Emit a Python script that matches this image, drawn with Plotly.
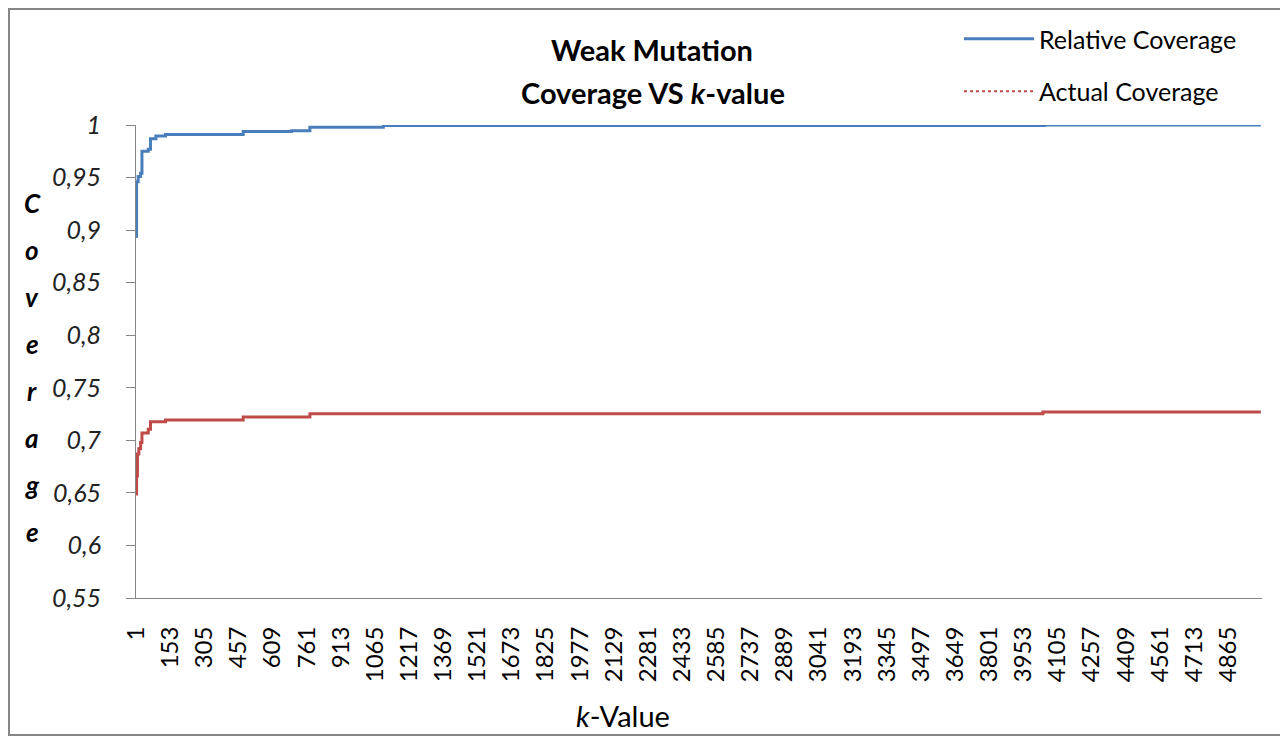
import plotly.graph_objects as go

# step points (k, coverage)
k_relative = [1, 3, 10, 21, 27, 55, 65, 89, 132, 478, 693, 775, 1102, 4049, 5011]
relative_coverage = [0.894, 0.946, 0.951, 0.954, 0.975, 0.977, 0.987, 0.9895, 0.991,
                     0.9937, 0.9946, 0.9978, 0.9995, 1.0, 1.0]

k_actual = [1, 3, 7, 13, 21, 27, 55, 65, 132, 478, 775, 4040, 5011]
actual_coverage = [0.649, 0.666, 0.687, 0.692, 0.698, 0.707, 0.7105, 0.7177, 0.7193,
                   0.7222, 0.7254, 0.727, 0.727]

x_ticks = [1, 153, 305, 457, 609, 761, 913, 1065, 1217, 1369, 1521, 1673, 1825, 1977,
           2129, 2281, 2433, 2585, 2737, 2889, 3041, 3193, 3345, 3497, 3649, 3801,
           3953, 4105, 4257, 4409, 4561, 4713, 4865]
y_ticks = [0.55, 0.6, 0.65, 0.7, 0.75, 0.8, 0.85, 0.9, 0.95, 1.0]
y_tick_text = ["0,55", "0,6", "0,65", "0,7", "0,75", "0,8", "0,85", "0,9", "0,95", "1"]

# the page body has an 8px margin, so the figure sits at (8, 8)
OFF = 8
W, H = 1288 - OFF, 738 - OFF
# plot area in page pixels
L, R, T, B = 136, 1262, 125, 598
FONT = "Lato"
BLUE = "#4A7EBB"
RED = "#BE4B48"


def px(x):
    return (x - L) / (R - L)


def py(y):
    return (B - y) / (B - T)


fig = go.Figure()
fig.add_trace(go.Scatter(x=k_relative, y=relative_coverage, mode="lines", line_shape="hv",
                         name="Relative Coverage", legendgroup="rel",
                         line=dict(color=BLUE, width=3)))
fig.add_trace(go.Scatter(x=k_actual, y=actual_coverage, mode="lines", line_shape="hv",
                         name="Actual Coverage", showlegend=False, legendgroup="act",
                         line=dict(color=RED, width=3)))
# legend swatch for the dotted series
fig.add_trace(go.Scatter(x=[None], y=[None], mode="lines", name="Actual Coverage",
                         legendgroup="act", line=dict(color=RED, width=2, dash="dot")))

annotations = [
    dict(text="<b>Weak Mutation</b>", x=px(652), y=py(50), size=29),
    dict(text="<b>Coverage VS <i>k</i>-value</b>", x=px(653), y=py(93), size=29),
    dict(text="<i>k</i>-Value", x=px(623), y=py(715), size=29),
]
for a in annotations:
    size = a.pop("size")
    a.update(xref="paper", yref="paper", showarrow=False, xanchor="center", yanchor="middle",
             font=dict(family=FONT, size=size, color="black"))

letters = "Coverage"
for i, ch in enumerate(letters):
    annotations.append(dict(text=f"<b><i>{ch}</i></b>", x=px(32), y=py(203 + 47 * i),
                            xref="paper", yref="paper", showarrow=False,
                            xanchor="center", yanchor="middle",
                            font=dict(family=FONT, size=26, color="black")))

fig.update_layout(
    width=W, height=H,
    margin=dict(l=L - OFF, r=W - (R - OFF), t=T - OFF, b=H - (B - OFF), autoexpand=False),
    paper_bgcolor="white", plot_bgcolor="white",
    annotations=annotations,
    legend=dict(x=px(959), y=py(16), xanchor="left", yanchor="top",
                font=dict(family=FONT, size=25, color="black"),
                tracegroupgap=17, itemwidth=70, bgcolor="rgba(0,0,0,0)"),
    shapes=[dict(type="rect", xref="paper", yref="paper",
                 x0=px(OFF + 1), x1=px(1285), y0=py(735), y1=py(OFF + 1),
                 line=dict(color="#868686", width=2))],
)
fig.update_xaxes(range=[0.5, 5016], tickmode="array", tickvals=x_ticks,
                 ticktext=[str(t) for t in x_ticks], tickangle=-90,
                 tickfont=dict(family=FONT, size=24, color="black"),
                 showgrid=False, zeroline=False, showline=True, linecolor="#868686",
                 linewidth=1, ticks="", ticklabelstandoff=18)
fig.update_yaxes(range=[0.55, 1.0], tickmode="array", tickvals=y_ticks, ticktext=y_tick_text,
                 tickfont=dict(family=FONT, size=25, color="#222222", style="italic"),
                 showgrid=False, zeroline=False, showline=True, linecolor="#868686",
                 linewidth=1, ticks="outside", ticklen=9, tickcolor="#868686",
                 ticklabelstandoff=20)

fig.write_html("out.html")
